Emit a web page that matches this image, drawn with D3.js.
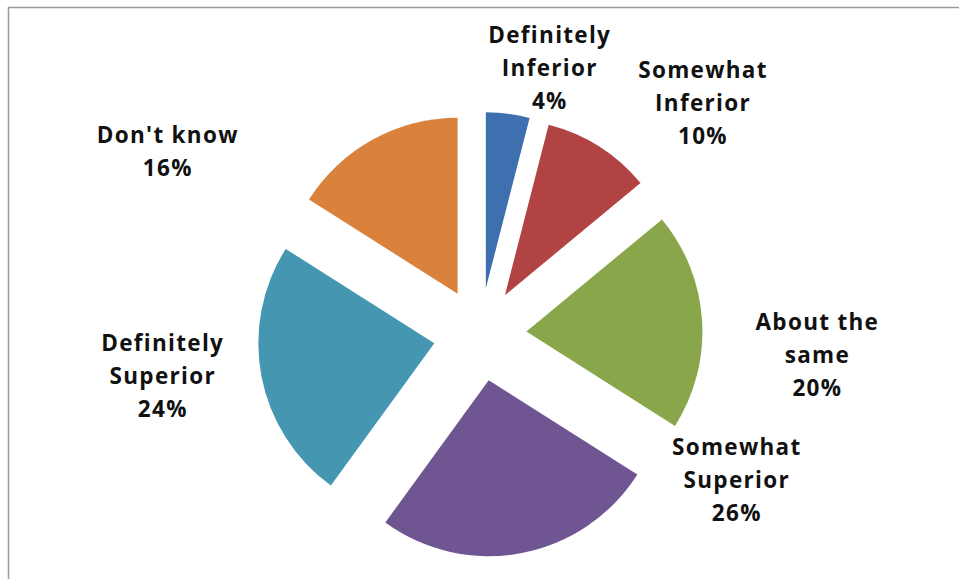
<!DOCTYPE html>
<html>
<head>
<meta charset="utf-8">
<script src="https://cdn.jsdelivr.net/npm/d3@7"></script>
<style>
  html, body { margin: 0; padding: 0; background: #fff; }
  svg { display: block; }
</style>
</head>
<body>
<svg id="chart" width="959" height="579"></svg>
<script>
// ---- data ----
const categories = ["Definitely Inferior", "Somewhat Inferior", "About the same", "Somewhat Superior", "Definitely Superior", "Don't know"];
const labelLines = [["Definitely", "Inferior"], ["Somewhat", "Inferior"], ["About the", "same"], ["Somewhat", "Superior"], ["Definitely", "Superior"], ["Don't know"]];
const values = [4, 10, 20, 26, 24, 16];
const colors = ["#3e6fae", "#b14442", "#89a64b", "#6f5592", "#4597b1", "#da823b"];

// ---- layout ----
const W = 959, H = 579;
const cx = 480, cy = 334.5, R = 176, explode = 46.5;
// label anchor in polar form: [angle in degrees clockwise from 12 o'clock, distance from centre]
const labelPolar = [[14.7, 275], [44.0, 321], [93.5, 338], [119.5, 295], [262.5, 320], [300.4, 362]];
const lineH = 33;

const svg = d3.select("#chart");

// frame
svg.append("rect")
  .attr("x", 8.5).attr("y", 7.5)
  .attr("width", W + 20).attr("height", H + 20)
  .attr("fill", "none").attr("stroke", "#9a9a9a").attr("stroke-width", 1.5);

const pie = d3.pie().sort(null).value(d => d)(values);
const arc = d3.arc().innerRadius(0).outerRadius(R);

const g = svg.append("g").attr("transform", `translate(${cx},${cy})`);

g.selectAll("path.slice")
  .data(pie)
  .join("path")
  .attr("class", "slice")
  .attr("d", arc)
  .attr("fill", (d, i) => colors[i])
  .attr("transform", d => {
    const a = (d.startAngle + d.endAngle) / 2;
    return `translate(${explode * Math.sin(a)},${-explode * Math.cos(a)})`;
  });

// labels
const labels = g.selectAll("text.lbl")
  .data(pie)
  .join("text")
  .attr("class", "lbl")
  .attr("text-anchor", "middle")
  .attr("font-family", "'Open Sans', sans-serif")
  .attr("font-weight", 700)
  .attr("font-size", 22.5)
  .attr("letter-spacing", 1.3)
  .attr("fill", "#111");

labels.each(function(d, i) {
  const [deg, r] = labelPolar[i];
  const a = deg * Math.PI / 180;
  const x = r * Math.sin(a), y = -r * Math.cos(a);
  const lines = labelLines[i].concat([values[i] + "%"]);
  const n = lines.length;
  const t = d3.select(this);
  lines.forEach((s, k) => {
    t.append("tspan")
      .attr("x", x)
      .attr("y", y + (k - (n - 1) / 2) * lineH)
      .attr("dy", "0.35em")
      .text(s);
  });
});
</script>
</body>
</html>
